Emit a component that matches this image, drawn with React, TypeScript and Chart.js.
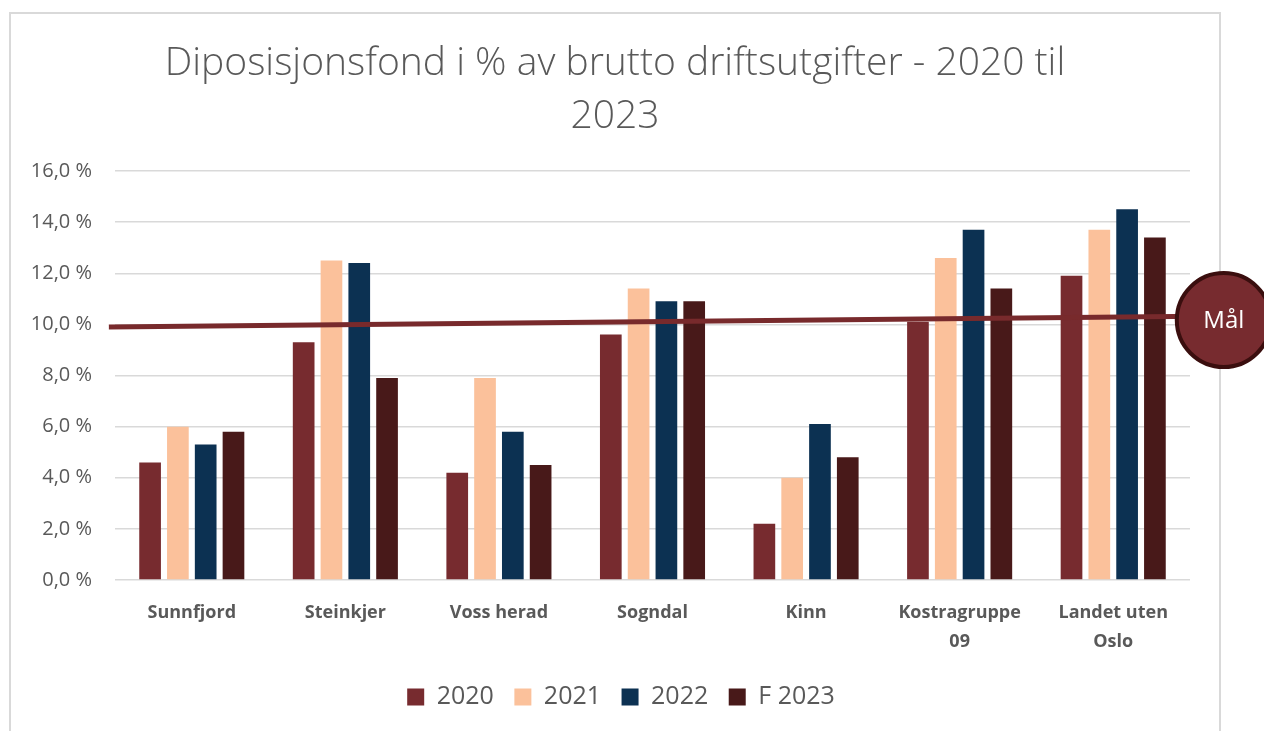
import React, { useEffect, useRef } from 'react';
import { Chart, registerables } from 'chart.js';

Chart.register(...registerables);

// ---- data ----
const categories: (string | string[])[] = [
  'Sunnfjord',
  'Steinkjer',
  'Voss herad',
  'Sogndal',
  'Kinn',
  ['Kostragruppe', '09'],
  ['Landet uten', 'Oslo'],
];
const seriesNames = ['2020', '2021', '2022', 'F 2023'];
const values2020 = [4.6, 9.3, 4.2, 9.6, 2.2, 10.1, 11.9];
const values2021 = [6.0, 12.5, 7.9, 11.4, 4.0, 12.6, 13.7];
const values2022 = [5.3, 12.4, 5.8, 10.9, 6.1, 13.7, 14.5];
const values2023 = [5.8, 7.9, 4.5, 10.9, 4.8, 11.4, 13.4];
const yMin = 0;
const yMax = 16;
const yStep = 2;
// goal ("Mål") line: x in category units (0 = first category centre), y in %
const maalLineX = [-0.54, 6.72];
const maalLineY = [9.9, 10.33];
const maalCircleX = [6.72];
const maalCircleY = [10.17];
const maalText = 'Mål';
const titleLines = ['Diposisjonsfond i % av brutto driftsutgifter - 2020 til', '2023'];

const colors = ['#772B2F', '#FBC19B', '#0C3152', '#481919'];
const textColor = '#595959';
const gridColor = '#D9D9D9';

export default function App() {
  const ref = useRef<HTMLCanvasElement>(null);

  useEffect(() => {
    const canvas = ref.current;
    if (!canvas) return;
    const seriesValues = [values2020, values2021, values2022, values2023];

    const titlePlugin = {
      id: 'titleText',
      afterDraw(chart: any) {
        const ctx = chart.ctx;
        ctx.save();
        ctx.fillStyle = textColor;
        ctx.font = '300 39px "Open Sans"';
        ctx.textAlign = 'center';
        ctx.textBaseline = 'middle';
        titleLines.forEach((line, i) => ctx.fillText(line, 615, 64 + i * 52.5));
        ctx.restore();
      },
    };

    // centre the legend under the framed chart box rather than the canvas
    const legendShiftPlugin = {
      id: 'legendShift',
      afterLayout(chart: any) {
        const lg = chart.legend;
        if (lg) {
          lg.left += 26;
          lg.right += 26;
        }
      },
    };

    const maalPlugin = {
      id: 'maal',
      afterDatasetsDraw(chart: any) {
        const xs = chart.scales.x;
        const ys = chart.scales.y;
        const p0 = xs.getPixelForValue(0);
        const p1 = xs.getPixelForValue(1);
        const ux = (u: number) => p0 + u * (p1 - p0);
        const ctx = chart.ctx;
        ctx.save();
        ctx.beginPath();
        ctx.moveTo(ux(maalLineX[0]), ys.getPixelForValue(maalLineY[0]));
        ctx.lineTo(ux(maalLineX[1]), ys.getPixelForValue(maalLineY[1]));
        ctx.strokeStyle = '#782A2C';
        ctx.lineWidth = 5;
        ctx.stroke();

        maalCircleX.forEach((cxv, i) => {
          const cx = ux(cxv);
          const cy = ys.getPixelForValue(maalCircleY[i]);
          ctx.beginPath();
          ctx.arc(cx, cy, 47, 0, Math.PI * 2);
          ctx.fillStyle = '#772B2F';
          ctx.fill();
          ctx.lineWidth = 4;
          ctx.strokeStyle = '#3A0E0E';
          ctx.stroke();
          ctx.fillStyle = '#FFFFFF';
          ctx.font = '24px "Open Sans"';
          ctx.textAlign = 'center';
          ctx.textBaseline = 'middle';
          ctx.fillText(maalText, cx, cy + 1);
        });
        ctx.restore();
      },
    };

    const datasets: any[] = seriesNames.map((name, i) => ({
      label: name,
      data: seriesValues[i],
      backgroundColor: colors[i],
      borderWidth: 0,
      categoryPercentage: 0.724,
      barPercentage: 0.78,
    }));

    const chart = new Chart(canvas, {
      type: 'bar',
      data: { labels: categories as any, datasets },
      options: {
        responsive: false,
        animation: false,
        devicePixelRatio: 1,
        layout: { padding: { left: 0, right: 74, top: 171, bottom: 11.5 } },
        plugins: {
          tooltip: { enabled: false },
          title: { display: false },
          legend: {
            position: 'bottom',
            labels: {
              color: textColor,
              font: { family: "'Open Sans'", size: 25 },
              boxWidth: 17,
              boxHeight: 17,
              padding: 20.5,
            },
          },
        },
        scales: {
          x: {
            type: 'category',
            offset: true,
            grid: { display: false, drawTicks: false },
            border: { display: false },
            ticks: {
              color: textColor,
              font: { family: "'Open Sans'", size: 18, weight: 'bold', lineHeight: '29px' as any },
              padding: 18,
              autoSkip: false,
              maxRotation: 0,
            },
            afterFit: (scale: any) => {
              scale.height = 84;
            },
          },
          y: {
            type: 'linear',
            min: yMin,
            max: yMax,
            grid: { color: gridColor, lineWidth: 1.5, drawTicks: false },
            border: { display: false },
            ticks: {
              stepSize: yStep,
              color: textColor,
              font: { family: "'Open Sans'", size: 20 },
              padding: 23,
              callback: (v: any) => Number(v).toFixed(1).replace('.', ',') + ' %',
            },
            afterFit: (scale: any) => {
              scale.width = 115;
            },
          },
        },
      },
      plugins: [maalPlugin, titlePlugin, legendShiftPlugin],
    });

    return () => chart.destroy();
  }, []);

  return (
    <div
      style={{
        position: 'fixed',
        left: 0,
        top: 0,
        width: 1264,
        height: 731,
        overflow: 'hidden',
        background: '#FFFFFF',
      }}
    >
      <div
        style={{
          position: 'absolute',
          left: 9,
          top: 12,
          width: 1212,
          height: 800,
          border: '2px solid #D9D9D9',
          boxSizing: 'border-box',
        }}
      />
      <canvas
        ref={ref}
        width={1264}
        height={731}
        style={{ position: 'absolute', left: 0, top: 0, width: 1264, height: 731 }}
      />
    </div>
  );
}
